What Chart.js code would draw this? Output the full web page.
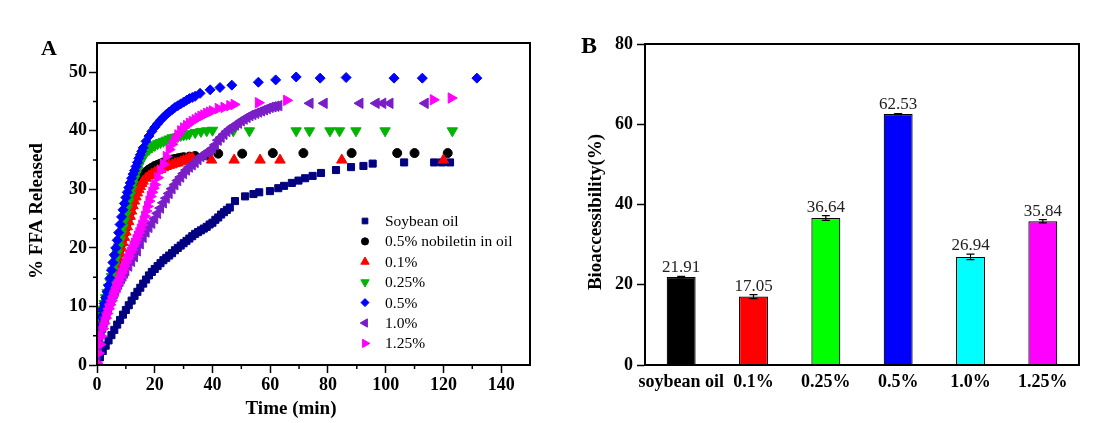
<!DOCTYPE html>
<html lang="en">
<head>
<meta charset="UTF-8">
<title>FFA release and bioaccessibility</title>
<style>
  body { margin: 0; background: #fff; }
  #wrap { position: relative; width: 1096px; height: 423px; }
  #box-a { position: absolute; left: 0; top: 0; width: 545px; height: 423px; }
  #box-b { position: absolute; left: 545px; top: 0; width: 551px; height: 423px; }
</style>
</head>
<body>
<div id="wrap">
  <div id="box-a"><canvas id="chart-a"></canvas></div>
  <div id="box-b"><canvas id="chart-b"></canvas></div>
</div>

<script src="https://cdn.jsdelivr.net/npm/chart.js"></script>
<script>
// ---- panel A: % FFA released vs time ----
const soyT = [0,1,2,3,4,5,6,7,8,9,10,11,12,13,14,15,16,17,18,19,20,21,22,23,24,25,26,27,28,29,30,31,32,33,34,35,36,37,38,39,40,41,42,43,44,45,46,
  47.8,51.3,54.2,56.2,59.9,62.8,64.8,67.5,69.8,72.1,74.7,77.6,82.8,88.0,92.3,95.5,106.4,116.8,119.5,122.3];
const soyV = [0,1.3,2.4,3.3,4.2,5.1,6.0,6.9,7.7,8.6,9.4,10.2,11.0,11.8,12.5,13.2,13.9,14.6,15.3,15.9,16.4,16.9,17.4,17.9,18.3,18.7,19.1,19.6,20.0,20.4,20.8,21.2,21.6,22.0,22.4,22.7,23.0,23.3,23.6,24.0,24.3,24.8,25.2,25.7,26.1,26.5,26.9,
  28.0,28.8,29.2,29.5,29.7,30.2,30.6,31.1,31.5,31.9,32.3,32.8,33.3,33.8,34.0,34.4,34.6,34.6,34.6,34.6];

const nobT = [0,0.5,1,1.5,2,2.5,3,3.5,4,4.5,5,5.5,6,6.5,7,7.5,8,8.5,9,9.5,10,10.5,11,11.5,12,12.5,13,13.5,14,14.5,15,15.5,16,17,18,19,20,21,22,23,24,25,26,27,28,29,30,32,34,
  38.0,42.0,50.3,60.9,71.5,88.2,104.0,110.0,121.5];
const nobV = [4.0,5.5,6.8,7.9,8.9,9.9,10.8,11.7,12.6,13.5,14.4,15.3,16.2,17.1,18.0,18.9,19.8,20.7,21.6,22.5,23.4,24.3,25.2,26.1,27.0,27.9,28.8,29.6,30.3,30.9,31.5,32.0,32.4,33.0,33.4,33.7,34.0,34.2,34.4,34.6,34.8,35.0,35.1,35.2,35.3,35.4,35.5,35.6,35.7,
  35.8,36.1,36.1,36.2,36.2,36.2,36.2,36.2,36.2];

const p01T = [0,0.5,1,1.5,2,2.5,3,3.5,4,4.5,5,5.5,6,6.5,7,7.5,8,8.5,9,9.5,10,10.5,11,11.5,12,12.5,13,13.5,14,14.5,15,15.5,16,17,18,19,20,21,22,23,24,25,26,27,28,29,30,31,32,33,
  39.7,47.5,56.5,63.4,84.8,120.0];
const p01V = [3.5,5.0,6.2,7.3,8.3,9.2,10.1,11.0,11.9,12.8,13.7,14.6,15.5,16.4,17.3,18.2,19.1,20.0,20.9,21.8,22.7,23.6,24.5,25.4,26.3,27.2,28.0,28.7,29.4,30.0,30.5,31.0,31.4,31.9,32.3,32.6,32.9,33.2,33.4,33.7,33.9,34.1,34.2,34.4,34.5,34.7,34.9,35.1,35.3,35.4,
  35.0,35.0,35.0,35.0,35.0,35.0];

const p025T = [0,0.5,1,1.5,2,2.5,3,3.5,4,4.5,5,5.5,6,6.5,7,7.5,8,8.5,9,9.5,10,10.5,11,11.5,12,12.5,13,13.5,14,14.5,15,15.5,16,17,18,19,20,21,22,23,24,25,26,27,28,29,30,31,32,34,36,38,40,
  47.2,52.8,69.0,73.6,80.7,84.0,89.7,99.8,123.1];
const p025V = [4.5,6.0,7.2,8.4,9.5,10.5,11.5,12.4,13.3,14.2,15.1,16.1,17.1,18.1,19.1,20.2,21.3,22.4,23.5,24.6,25.7,26.8,27.9,29.0,30.0,30.9,31.8,32.6,33.3,34.0,34.6,35.1,35.6,36.3,36.8,37.2,37.5,37.8,38.0,38.2,38.4,38.6,38.8,38.9,39.0,39.2,39.3,39.4,39.5,39.7,39.9,40.0,40.1,
  40.0,40.0,40.0,40.0,40.0,40.0,40.0,40.0,40.0];

const p05T = [0,0.5,1,1.5,2,2.5,3,3.5,4,4.5,5,5.5,6,6.5,7,7.5,8,8.5,9,9.5,10,10.5,11,11.5,12,12.5,13,13.5,14,14.5,15,15.5,16,17,18,19,20,21,22,23,24,25,26,27,28,29,30,31,32,33,34,
  35.7,39.2,42.6,46.7,55.9,61.9,69.0,77.3,86.3,102.9,112.7,131.6];
const p05V = [3.0,5.0,6.8,8.3,9.5,10.5,11.5,12.5,13.6,14.8,16.2,17.5,18.8,20.0,21.3,22.6,24.0,25.3,26.5,27.6,28.6,29.5,30.3,31.1,31.9,32.6,33.2,33.9,34.6,35.3,35.9,36.5,37.1,38.2,39.1,39.9,40.6,41.2,41.8,42.3,42.8,43.2,43.6,44.0,44.3,44.6,44.9,45.2,45.5,45.7,45.9,
  46.4,47.0,47.4,47.8,48.3,48.7,49.2,49.0,49.1,49.0,49.0,49.0];

const p10T = [0,0.5,1,1.5,2,2.5,3,3.5,4,4.5,5,5.5,6,6.5,7,7.5,8,8.5,9,9.5,10,11,12,13,14,15,16,17,18,19,20,21,22,23,24,25,26,27,28,29,30,31,32,33,34,35,36,37,38,39,40,41,42,43,44,45,46,47,48,49,50,51,52,53,54,55,56,57,58,59,60,61,62,63,
  73.8,78.7,91.1,96.7,99.0,101.5,113.7];
const p10V = [1.5,3.0,4.3,5.4,6.4,7.3,8.1,8.9,9.6,10.3,11.0,11.6,12.2,12.8,13.3,13.8,14.3,14.8,15.2,15.7,16.1,16.9,17.7,18.5,19.5,20.7,21.8,22.7,23.5,24.2,25.0,25.9,26.8,27.7,28.5,29.3,30.1,30.8,31.5,32.1,32.7,33.3,33.8,34.2,34.6,35.1,35.6,35.9,36.3,36.6,37.0,37.6,38.4,38.9,39.4,39.9,40.3,40.7,41.0,41.3,41.7,42.0,42.3,42.6,42.8,43.0,43.2,43.4,43.6,43.8,44.0,44.1,44.2,44.3,
  44.7,44.7,44.7,44.7,44.7,44.7,44.7];

const p125T = [0,0.5,1,1.5,2,2.5,3,3.5,4,4.5,5,5.5,6,6.5,7,7.5,8,8.5,9,9.5,10,10.5,11,11.5,12,12.5,13,13.5,14,14.5,15,15.5,16,16.5,17,17.5,18,18.5,19,19.5,20,21,22,23,24,25,26,27,28,29,30,31,32,33,34,35,36,37,38,39,40,42,44,46,47.5,
  55.9,65.7,116.5,122.7];
const p125V = [0.3,2.0,3.5,4.9,6.2,7.1,8.0,8.8,9.6,10.3,11.0,11.8,12.5,13.2,13.8,14.4,15.0,15.7,16.3,16.9,17.5,18.1,18.6,19.2,19.7,20.3,20.8,21.4,22.0,22.6,23.2,23.9,24.6,25.4,26.3,27.1,28.0,28.8,29.5,30.2,30.8,32.0,33.2,34.3,35.6,36.8,37.7,38.5,39.3,40.0,40.5,40.9,41.3,41.6,41.9,42.2,42.5,42.7,43.0,43.2,43.4,43.8,44.0,44.3,44.5,
  44.8,45.2,45.3,45.6];

const seriesNames = ['Soybean oil', '0.5% nobiletin in oil', '0.1%', '0.25%', '0.5%', '1.0%', '1.25%'];
const xMinor = [10, 30, 50, 70, 90, 110, 130];
const yMinor = [5, 15, 25, 35, 45];

// ---- panel B: bioaccessibility ----
const bioLabels = ['soybean oil', '0.1%', '0.25%', '0.5%', '1.0%', '1.25%'];
const bioValues = [21.91, 17.05, 36.64, 62.53, 26.94, 35.84];
const bioErrors = [0.2, 0.5, 0.6, 0.15, 0.7, 0.4];
const bioColors = ['#000000', '#ff0000', '#00ff00', '#0000ff', '#00ffff', '#ff00ff'];

const serif = "'Liberation Serif', 'Times New Roman', serif";

function pts(ts, vs) {
  return ts.map((t, i) => ({ x: t, y: vs[i] }));
}

// box around the plot area
const frame = {
  id: 'frame',
  afterDraw(chart) {
    const { ctx, chartArea: a } = chart;
    ctx.save();
    ctx.strokeStyle = '#000';
    ctx.lineWidth = 2;
    ctx.strokeRect(a.left, a.top, a.right - a.left, a.bottom - a.top);
    ctx.restore();
  }
};

const minorTicks = {
  id: 'minorTicks',
  afterDraw(chart) {
    const { ctx, chartArea: a, scales } = chart;
    ctx.save();
    ctx.strokeStyle = '#000';
    ctx.lineWidth = 1.5;
    ctx.beginPath();
    xMinor.forEach(v => {
      const px = scales.x.getPixelForValue(v);
      ctx.moveTo(px, a.bottom);
      ctx.lineTo(px, a.bottom + 4);
    });
    yMinor.forEach(v => {
      const py = scales.y.getPixelForValue(v);
      ctx.moveTo(a.left, py);
      ctx.lineTo(a.left - 4, py);
    });
    ctx.stroke();
    ctx.restore();
  }
};

const decorA = {
  id: 'decorA',
  afterDraw(chart) {
    const { ctx } = chart;
    ctx.save();
    ctx.fillStyle = '#000';
    ctx.textAlign = 'center';
    ctx.textBaseline = 'middle';
    ctx.font = `bold 22px ${serif}`;
    ctx.fillText('A', 49, 49);
    ctx.font = `bold 19px ${serif}`;
    ctx.fillText('Time (min)', 291, 409);
    ctx.save();
    ctx.translate(37, 211);
    ctx.rotate(-Math.PI / 2);
    ctx.fillText('% FFA Released', 0, 0);
    ctx.restore();

    // legend inside the plot
    ctx.textAlign = 'left';
    ctx.font = `15.5px ${serif}`;
    chart.data.datasets.forEach((ds, i) => {
      const yy = 221 + i * 20.4;
      ctx.fillStyle = ds.backgroundColor;
      ctx.strokeStyle = ds.borderColor;
      ctx.lineWidth = 1;
      Chart.helpers.drawPoint(ctx, {
        pointStyle: ds.pointStyle,
        rotation: ds.pointRotation || 0,
        radius: ds.pointRadius * 0.8,
        borderWidth: 1
      }, 365, yy);
      ctx.fillStyle = '#000';
      ctx.fillText(ds.label, 385, yy + 1);
    });
    ctx.restore();
  }
};

const styleA = [
  { c: '#000080', s: 'rect', r: 5, rot: 0 },
  { c: '#000000', s: 'circle', r: 4.5, rot: 0 },
  { c: '#ff0000', s: 'triangle', r: 6, rot: 0 },
  { c: '#00b400', s: 'triangle', r: 6, rot: 180 },
  { c: '#0000ff', s: 'rectRot', r: 5, rot: 0 },
  { c: '#7a1fc8', s: 'triangle', r: 6, rot: 270 },
  { c: '#ff00ff', s: 'triangle', r: 6, rot: 90 }
];
const dataA = [pts(soyT, soyV), pts(nobT, nobV), pts(p01T, p01V), pts(p025T, p025V), pts(p05T, p05V), pts(p10T, p10V), pts(p125T, p125V)];

new Chart(document.getElementById('chart-a'), {
  type: 'scatter',
  data: {
    datasets: dataA.map((d, i) => ({
      label: seriesNames[i],
      data: d,
      pointStyle: styleA[i].s,
      pointRadius: styleA[i].r,
      pointRotation: styleA[i].rot,
      backgroundColor: styleA[i].c,
      borderColor: styleA[i].c,
      pointBorderWidth: 1,
      order: 6 - i
    }))
  },
  options: {
    responsive: true,
    maintainAspectRatio: false,
    animation: false,
    layout: { padding: { top: 43, right: 15, left: 0, bottom: 0 } },
    plugins: { legend: { display: false }, tooltip: { enabled: false } },
    scales: {
      x: {
        type: 'linear',
        min: 0, max: 150,
        afterFit(s) { s.height = 58; },
        border: { color: '#000', width: 2 },
        grid: { drawOnChartArea: false, tickLength: 8, tickColor: '#000', tickWidth: 1.5 },
        ticks: { stepSize: 20, includeBounds: false, padding: 2, color: '#000', font: { family: serif, size: 18, weight: 'bold' } }
      },
      y: {
        min: 0, max: 55,
        afterFit(s) { s.width = 97; },
        border: { color: '#000', width: 2 },
        grid: { drawOnChartArea: false, tickLength: 8, tickColor: '#000', tickWidth: 1.5 },
        ticks: { stepSize: 10, includeBounds: false, padding: 2, color: '#000', font: { family: serif, size: 18, weight: 'bold' } }
      }
    }
  },
  plugins: [frame, minorTicks, decorA]
});

// error bars, value labels and texts for panel B
const decorB = {
  id: 'decorB',
  afterDatasetsDraw(chart) {
    const { ctx, scales } = chart;
    const meta = chart.getDatasetMeta(0);
    ctx.save();
    ctx.strokeStyle = '#000';
    ctx.lineWidth = 1.2;
    ctx.fillStyle = '#222';
    ctx.textAlign = 'center';
    ctx.textBaseline = 'alphabetic';
    ctx.font = `17px ${serif}`;
    meta.data.forEach((bar, i) => {
      const hi = scales.y.getPixelForValue(bioValues[i] + bioErrors[i]);
      const lo = scales.y.getPixelForValue(bioValues[i] - bioErrors[i]);
      ctx.beginPath();
      ctx.moveTo(bar.x, hi); ctx.lineTo(bar.x, lo);
      ctx.moveTo(bar.x - 4, hi); ctx.lineTo(bar.x + 4, hi);
      ctx.moveTo(bar.x - 4, lo); ctx.lineTo(bar.x + 4, lo);
      ctx.stroke();
      ctx.fillText(bioValues[i].toFixed(2), bar.x, hi - 4);
    });
    ctx.restore();
  },
  afterDraw(chart) {
    const { ctx } = chart;
    ctx.save();
    ctx.fillStyle = '#000';
    ctx.textAlign = 'center';
    ctx.textBaseline = 'middle';
    ctx.font = `bold 24px ${serif}`;
    ctx.fillText('B', 44, 47);
    ctx.font = `bold 19px ${serif}`;
    ctx.translate(51, 212);
    ctx.rotate(-Math.PI / 2);
    ctx.fillText('Bioaccessibility(%)', 0, 0);
    ctx.restore();
  }
};

new Chart(document.getElementById('chart-b'), {
  type: 'bar',
  data: {
    labels: bioLabels,
    datasets: [{
      data: bioValues,
      backgroundColor: bioColors,
      borderColor: '#000',
      borderWidth: 1.2,
      barPercentage: 0.4,
      categoryPercentage: 1
    }]
  },
  options: {
    responsive: true,
    maintainAspectRatio: false,
    animation: false,
    layout: { padding: { top: 44, right: 17, left: 0, bottom: 0 } },
    plugins: { legend: { display: false }, tooltip: { enabled: false } },
    scales: {
      x: {
        afterFit(s) { s.height = 58; },
        border: { color: '#000', width: 2 },
        grid: { display: false, drawTicks: false },
        ticks: { padding: 7, maxRotation: 0, minRotation: 0, autoSkip: false, color: '#000', font: { family: serif, size: 18, weight: 'bold' } }
      },
      y: {
        min: 0, max: 80,
        afterFit(s) { s.width = 100; },
        border: { color: '#000', width: 2 },
        grid: { drawOnChartArea: false, tickLength: 8, tickColor: '#000', tickWidth: 1.5 },
        ticks: { stepSize: 20, padding: 4, color: '#000', font: { family: serif, size: 18, weight: 'bold' } }
      }
    }
  },
  plugins: [frame, decorB]
});
</script>
</body>
</html>
